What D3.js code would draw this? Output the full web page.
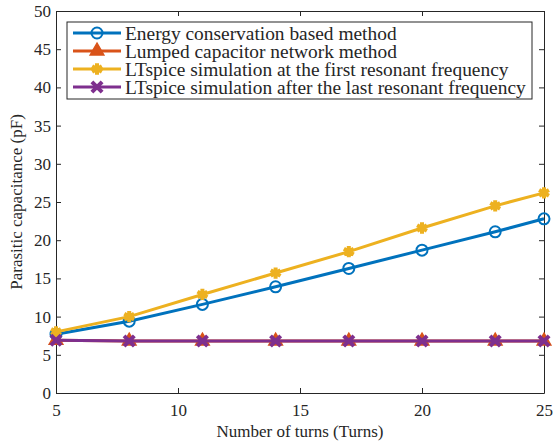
<!DOCTYPE html>
<html>
<head>
<meta charset="utf-8">
<script src="https://cdn.jsdelivr.net/npm/d3@7"></script>
<style>
  body { margin: 0; background: #fff; }
</style>
</head>
<body>
<svg width="558" height="445"></svg>
<script>
// chart data
var turns = [5, 8, 11, 14, 17, 20, 23, 25];
var energy = [7.7, 9.4, 11.6, 13.9, 16.3, 18.7, 21.1, 22.8];
var lumped = [6.9, 6.8, 6.8, 6.8, 6.8, 6.8, 6.8, 6.8];
var ltFirst = [8.0, 10.0, 12.9, 15.7, 18.5, 21.6, 24.5, 26.2];
var ltLast = [6.9, 6.8, 6.8, 6.8, 6.8, 6.8, 6.8, 6.8];
var seriesNames = [
  "Energy conservation based method",
  "Lumped capacitor network method",
  "LTspice simulation at the first resonant frequency",
  "LTspice simulation after the last resonant frequency"
];
var xTicks = [5, 10, 15, 20, 25];
var yTicks = [0, 5, 10, 15, 20, 25, 30, 35, 40, 45, 50];

var FONT = "'Liberation Serif'";

var svg = d3.select("svg"),
    margin = {top: 11, right: 14, bottom: 52, left: 56},
    width = 558 - margin.left - margin.right,
    height = 445 - margin.top - margin.bottom;

var x = d3.scaleLinear().domain([5, 25]).range([0, width]);
var y = d3.scaleLinear().domain([0, 50]).range([height, 0]);

var g = svg.append("g")
    .attr("transform", "translate(" + margin.left + "," + margin.top + ")");

var series = [
  {name: seriesNames[0], values: energy, color: "#0072BD", marker: "circle"},
  {name: seriesNames[1], values: lumped, color: "#D95319", marker: "triangle"},
  {name: seriesNames[2], values: ltFirst, color: "#EDB120", marker: "star"},
  {name: seriesNames[3], values: ltLast, color: "#7E2F8E", marker: "cross"}
];

// axes (ticks inward, box)
var axisColor = "#262626";
function styleAxis(sel) {
  sel.attr("font-family", null);
  sel.selectAll("path").attr("stroke", axisColor).attr("stroke-width", 1);
  sel.selectAll("line").attr("stroke", axisColor);
  sel.selectAll("text")
      .style("font-family", FONT).style("font-size", "17px").style("fill", axisColor);
}

g.append("g")
    .attr("transform", "translate(0," + height + ")")
    .call(d3.axisBottom(x).tickValues(xTicks).tickSize(-5).tickSizeOuter(0).tickPadding(11))
    .call(styleAxis);
g.append("g")
    .call(d3.axisTop(x).tickValues(xTicks).tickSize(-5).tickSizeOuter(0).tickFormat(""))
    .call(styleAxis);
g.append("g")
    .call(d3.axisLeft(y).tickValues(yTicks).tickSize(-5).tickSizeOuter(0).tickPadding(5))
    .call(styleAxis);
g.append("g")
    .attr("transform", "translate(" + width + ",0)")
    .call(d3.axisRight(y).tickValues(yTicks).tickSize(-5).tickSizeOuter(0).tickFormat(""))
    .call(styleAxis);

// axis labels
svg.append("text")
    .attr("x", margin.left + width / 2)
    .attr("y", 437)
    .attr("text-anchor", "middle")
    .style("font-family", FONT).style("font-size", "17px").style("fill", axisColor)
    .text("Number of turns (Turns)");
svg.append("text")
    .attr("transform", "translate(22," + (margin.top + height / 2) + ") rotate(-90)")
    .attr("text-anchor", "middle")
    .style("font-family", FONT).style("font-size", "17px").style("fill", axisColor)
    .text("Parasitic capacitance (pF)");

// markers
function drawMarker(sel, type, color) {
  if (type === "circle") {
    sel.append("circle").attr("r", 5.5)
      .attr("fill", "none").attr("stroke", color).attr("stroke-width", 2);
  } else if (type === "triangle") {
    sel.append("path").attr("d", d3.symbol().type(d3.symbolTriangle).size(80))
      .attr("fill", color).attr("stroke", color).attr("stroke-width", 1.5);
  } else if (type === "star") {
    sel.append("path").attr("d", d3.symbol().type(d3.symbolAsterisk).size(90))
      .attr("fill", "none").attr("stroke", color).attr("stroke-width", 4);
  } else if (type === "cross") {
    sel.append("path").attr("d", d3.symbol().type(d3.symbolX).size(70))
      .attr("fill", "none").attr("stroke", color).attr("stroke-width", 4);
  }
}

var line = d3.line()
    .x(function(d, i) { return x(turns[i]); })
    .y(function(d) { return y(d); });

series.forEach(function(s) {
  g.append("path")
      .datum(s.values)
      .attr("fill", "none")
      .attr("stroke", s.color)
      .attr("stroke-width", 3)
      .attr("d", line);
  g.selectAll(null).data(s.values).enter().append("g")
      .attr("transform", function(d, i) { return "translate(" + x(turns[i]) + "," + y(d) + ")"; })
      .each(function() { drawMarker(d3.select(this), s.marker, s.color); });
});

// legend
var legend = svg.append("g").attr("transform", "translate(67,22)");
legend.append("rect")
    .attr("width", 465).attr("height", 77)
    .attr("fill", "#fff").attr("stroke", axisColor).attr("stroke-width", 1);

var item = legend.selectAll(".item").data(series).enter().append("g")
    .attr("transform", function(d, i) { return "translate(0," + (11 + i * 18) + ")"; });
item.append("line")
    .attr("x1", 6).attr("x2", 54)
    .attr("stroke", function(d) { return d.color; })
    .attr("stroke-width", 3);
item.append("g")
    .attr("transform", "translate(30,0)")
    .each(function(d) { drawMarker(d3.select(this), d.marker, d.color); });
item.append("text")
    .attr("x", 58).attr("dy", "0.35em")
    .style("font-family", FONT).style("font-size", "19.4px").style("fill", axisColor)
    .text(function(d) { return d.name; });
</script>
</body>
</html>
